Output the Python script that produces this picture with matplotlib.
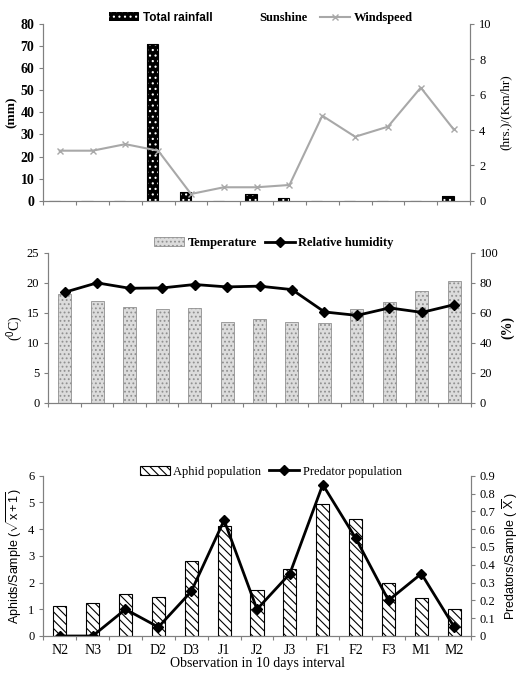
import matplotlib
matplotlib.use("Agg")
import matplotlib.pyplot as plt
from matplotlib.patches import Patch
from matplotlib.lines import Line2D
import numpy as np

plt.rcParams['font.family'] = ['Liberation Serif', 'DejaVu Serif']
plt.rcParams['mathtext.fontset'] = 'custom'
plt.rcParams['mathtext.rm'] = 'Liberation Sans'
plt.rcParams['mathtext.it'] = 'Liberation Sans:italic'
plt.rcParams['hatch.linewidth'] = 0.8

periods = ['N2', 'N3', 'D1', 'D2', 'D3', 'J1', 'J2', 'J3', 'F1', 'F2', 'F3', 'M1', 'M2']

# weather panel
rainfall = [0, 0, 0, 71, 4, 0, 3, 1, 0, 0, 0, 0, 2]
windspeed = [2.83, 2.83, 3.2, 2.83, 0.38, 0.76, 0.76, 0.89, 4.81, 3.62, 4.19, 6.4, 4.04]

# temperature / humidity panel
temperature = [18.2, 16.9, 15.9, 15.7, 15.75, 13.5, 13.9, 13.45, 13.35, 15.6, 16.85, 18.6, 20.3]
humidity = [73.6, 79.9, 76.3, 76.5, 78.8, 77.2, 77.7, 75.4, 60.5, 58.2, 63.2, 60.2, 65.4]

# population panel
aphids = [1.12, 1.22, 1.56, 1.47, 2.82, 4.13, 1.72, 2.5, 4.93, 4.37, 2.0, 1.41, 1.0]
predators = [0.0, 0.0, 0.15, 0.05, 0.25, 0.65, 0.15, 0.35, 0.85, 0.55, 0.2, 0.35, 0.05]

x = np.arange(len(periods))
W, H = 520, 679
gray = '#808080'


def px_axes(l, r, t, b):
    return fig.add_axes([l / W, (H - b) / H, (r - l) / W, (b - t) / H])


def style(ax, ax2):
    ax.set_xlim(-0.5, len(periods) - 0.5)
    ax.spines['top'].set_visible(False)
    ax2.spines['top'].set_visible(False)
    for a in (ax, ax2):
        for s in a.spines.values():
            s.set_color(gray)
            s.set_linewidth(0.8)
        a.tick_params(axis='y', colors=gray, labelcolor='black', length=3, width=0.8, labelsize=9)
    ax.set_xticks(np.arange(-0.5, len(periods), 1))
    ax.set_xticklabels([])
    ax.tick_params(axis='x', which='major', colors=gray, length=3, width=0.8)


fig = plt.figure(figsize=(W / 100, H / 100), dpi=100)

# ---- top panel
ax1 = px_axes(43.3, 470, 24, 200.7)
ax1b = ax1.twinx()
ax1.bar(x - 0.17, rainfall, 0.34, color='black', edgecolor='white', hatch='...', lw=0)
ax1.bar(x - 0.17, rainfall, 0.34, fill=False, edgecolor='black', lw=0.8)
ax1b.plot(x, windspeed, color='#a8a8a8', lw=1.5, marker='x', ms=5, mew=1)
ax1.set_ylim(0, 80)
ax1.set_yticks(range(0, 81, 10))
ax1b.set_ylim(0, 10)
ax1b.set_yticks(range(0, 11, 2))
style(ax1, ax1b)
for lab in ax1.get_yticklabels():
    lab.set_fontweight('bold')
    lab.set_fontsize(10)
ax1.set_ylabel('(mm)', fontsize=9.5, fontweight='bold', labelpad=2)
ax1b.set_ylabel('(hrs.)/(Km/hr)', fontsize=9.5, labelpad=6)
h1 = [Patch(facecolor='black', edgecolor='white', hatch='...', lw=0),
      Patch(facecolor='white', edgecolor='white'),
      Line2D([], [], color='#a8a8a8', lw=1.5, marker='x', ms=5)]
leg = ax1.legend(h1, ['Total rainfall', 'Sunshine', 'Windspeed'], ncol=3, loc='center',
                 bbox_to_anchor=(0.51, 1.034), frameon=False,
                 handlelength=2.4, handletextpad=0.3, columnspacing=1.0,
                 prop={'weight': 'bold', 'size': 9})
leg.get_texts()[0].set_family('Liberation Sans')
leg.get_texts()[0].set_fontsize(8.5)

# ---- middle panel
ax2 = px_axes(48.3, 470.7, 252.7, 402.7)
ax2b = ax2.twinx()
ax2.bar(x, temperature, 0.4, color='#dcdcdc', edgecolor='#909090', hatch='....', lw=0.6)
ax2b.plot(x, humidity, color='black', lw=2, marker='D', ms=5)
ax2.set_ylim(0, 25)
ax2.set_yticks(range(0, 26, 5))
ax2b.set_ylim(0, 100)
ax2b.set_yticks(range(0, 101, 20))
style(ax2, ax2b)
ax2.set_ylabel(r'($^{0}$C)', fontsize=10, labelpad=1)
ax2b.set_ylabel('(%)', fontsize=10, fontweight='bold', labelpad=2)
h2 = [Patch(facecolor='#dcdcdc', edgecolor='#909090', hatch='....', lw=0.6),
      Line2D([], [], color='black', lw=2, marker='D', ms=5)]
ax2.legend(h2, ['Temperature', 'Relative humidity'], ncol=2, loc='center',
           bbox_to_anchor=(0.534, 1.065), frameon=False,
           handlelength=2.4, handletextpad=0.3, columnspacing=0.6,
           prop={'weight': 'bold', 'size': 9})

# ---- bottom panel
ax3 = px_axes(43.3, 470.7, 475.7, 636)
ax3b = ax3.twinx()
ax3.bar(x, aphids, 0.4, color='white', edgecolor='black', hatch='\\\\\\\\', lw=0.8)
ax3b.plot(x, predators, color='black', lw=2, marker='D', ms=5)
ax3.set_ylim(0, 6)
ax3.set_yticks(range(0, 7))
ax3b.set_ylim(0, 0.9)
ax3b.set_yticks(np.arange(0, 0.91, 0.1))
ax3b.set_yticklabels(['0'] + ['%.1f' % v for v in np.arange(0.1, 0.91, 0.1)])
style(ax3, ax3b)
ax3.set_xticks(x, minor=True)
ax3.set_xticklabels(periods, minor=True, fontsize=10)
ax3.tick_params(axis='x', which='minor', length=0, pad=6)
ax3.set_xlabel('Observation in 10 days interval', fontsize=10, labelpad=0)
ax3.set_ylabel(r'Aphids/Sample ($\sqrt{\mathrm{x + 1}}$)', fontsize=9,
               family='Liberation Sans', labelpad=3)
ax3b.set_ylabel(r'Predators/Sample ( $\overline{\mathrm{X}}$ )', fontsize=9,
                family='Liberation Sans', labelpad=4)
h3 = [Patch(facecolor='white', edgecolor='black', hatch='\\\\\\\\', lw=0.8),
      Line2D([], [], color='black', lw=2, marker='D', ms=5)]
ax3.legend(h3, ['Aphid population', 'Predator population'], ncol=2, loc='center',
           bbox_to_anchor=(0.532, 1.025), frameon=False,
           handlelength=2.4, handletextpad=0.3, columnspacing=0.6,
           prop={'size': 9})

fig.savefig('out.png', dpi=100)
